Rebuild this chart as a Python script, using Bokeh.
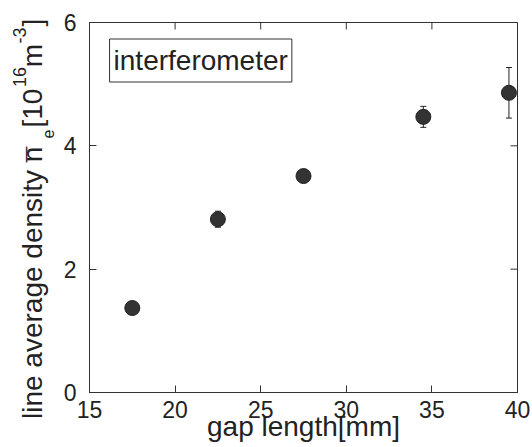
from math import pi
from bokeh.plotting import figure
from bokeh.layouts import row
from bokeh.models import (ColumnDataSource, Whisker, TeeHead, Label, FixedTicker, Range1d)
from bokeh.embed import file_html
from bokeh.resources import INLINE

# ---- data ----
gap_mm = [17.5, 22.5, 27.5, 34.5, 39.5]
density = [1.37, 2.81, 3.51, 4.47, 4.86]
density_err = [0.05, 0.13, 0.07, 0.17, 0.41]
x_ticks = [15, 20, 25, 30, 35, 40]
y_ticks = [0, 2, 4, 6]
x_label = "gap length[mm]"
legend_text = "interferometer"

X0, X1, Y0, Y1 = 15, 40, 0, 6

# ---- layout (page pixels) ----
W, H = 532, 447
SW = 56                      # strip holding the composed y-axis title
FL, FT, FW, FH = 89, 22, 428, 370
FONT = "Liberation Sans"
INK = "#222222"
EDGE = "#333333"

# advance widths (em/1000) of Liberation Sans, used to centre the title pieces
ADV = {" ": 278, "l": 222, "i": 222, "n": 556, "e": 556, "a": 556, "v": 500,
       "r": 333, "g": 556, "d": 556, "s": 500, "t": 278, "y": 500, "[": 278,
       "]": 278, "1": 556, "0": 556, "6": 556, "m": 833, "-": 333, "3": 556,
       "\u00af": 552}
MID = (0.905 - 0.212) / 2    # baseline -> middle of the text box, in em


def text_width(txt, fs):
    return sum(ADV.get(c, 556) for c in txt) / 1000 * fs


def dx(px):  # page px -> data x of main plot
    return X0 + (px - FL) * (X1 - X0) / FW


def dy(py):  # page px -> data y of main plot
    return Y1 - (py - FT) * (Y1 - Y0) / FH


# ---- main plot ----
p = figure(width=W - SW, height=H, x_range=Range1d(X0, X1), y_range=Range1d(Y0, Y1),
           output_backend="svg", toolbar_location=None, frame_align=False,
           min_border_left=FL - SW, min_border_top=FT,
           min_border_right=W - FL - FW, min_border_bottom=H - FT - FH)
p.grid.visible = False
p.outline_line_color = EDGE

for ax in (p.xaxis[0], p.yaxis[0]):
    ax.major_tick_in = 7
    ax.major_tick_out = 0
    ax.minor_tick_line_color = None
    ax.axis_line_color = EDGE
    ax.major_tick_line_color = EDGE
    ax.major_label_text_font = FONT
    ax.major_label_text_font_size = "23px"
    ax.major_label_text_color = INK
p.xaxis.ticker = FixedTicker(ticks=x_ticks)
p.yaxis.ticker = FixedTicker(ticks=y_ticks)
p.xaxis.major_label_standoff = 8
p.yaxis.major_label_standoff = 13
p.xaxis.axis_label = x_label
p.xaxis.axis_label_text_font = FONT
p.xaxis.axis_label_text_font_size = "28px"
p.xaxis.axis_label_text_font_style = "normal"
p.xaxis.axis_label_text_color = INK
p.xaxis.axis_label_standoff = -10

# inward ticks on the top and right edges (outer half is clipped by the frame)
p.scatter(x=x_ticks, y=[Y1] * len(x_ticks), marker="dash", angle=pi / 2, size=14,
          line_color=EDGE, line_width=1)
p.scatter(x=[X1] * len(y_ticks), y=y_ticks, marker="dash", size=14,
          line_color=EDGE, line_width=1)

src = ColumnDataSource(dict(
    x=gap_mm, y=density,
    lo=[d - e for d, e in zip(density, density_err)],
    hi=[d + e for d, e in zip(density, density_err)],
))
p.add_layout(Whisker(source=src, base="x", lower="lo", upper="hi",
                     line_color=INK, line_width=1, level="underlay",
                     upper_head=TeeHead(size=6, line_color=INK, line_width=1),
                     lower_head=TeeHead(size=6, line_color=INK, line_width=1)))
p.scatter("x", "y", source=src, size=15, fill_color=EDGE, line_color=INK)

# boxed text inside the plot (centred on the box of the reference)
p.add_layout(Label(x=dx(200.2), y=dy(60), text=legend_text, text_font=FONT,
                   text_font_size="28px", text_color=INK, text_baseline="middle",
                   text_align="center", border_line_color=EDGE, border_line_width=1,
                   background_fill_color="white",
                   padding=dict(left=4, right=4, top=6, bottom=6)))

# ---- strip with the composed y-axis title ----
s = figure(width=SW, height=H, x_range=Range1d(0, SW), y_range=Range1d(H, 0),
           output_backend="svg", toolbar_location=None, min_border=0,
           frame_align=False, x_axis_location=None, y_axis_location=None)
s.grid.visible = False
s.outline_line_color = None

# (text, font size, baseline page-x, start page-y); text reads bottom -> top
ylabel_parts = [
    ("line average density n", 28, 42, 418.5),
    ("\u00af", 28, 47, 161.7),
    ("e", 16, 53.5, 138),
    ("[10", 28, 42, 127),
    ("16", 18, 25, 86.5),
    ("m", 28, 42, 66.8),
    ("-3", 18, 25, 43),
    ("]", 28, 42, 26),
]
for txt, fs, bx, sy in ylabel_parts:
    cy = sy - text_width(txt, fs) / 2
    cx = bx - MID * fs
    s.add_layout(Label(x=cx, y=cy, text=txt, angle=pi / 2, text_font=FONT,
                       text_font_size=f"{fs}px", text_color=INK, text_align="center",
                       text_baseline="middle"))

layout = row(s, p)
open("out.html", "w").write(file_html(layout, INLINE))
